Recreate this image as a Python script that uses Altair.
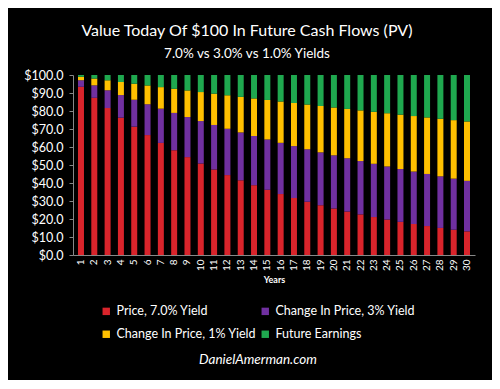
import altair as alt
import pandas as pd

years = list(range(1, 31))
# Cumulative stack levels (top of each segment, $)
top_red = [93.46, 87.34, 81.63, 76.29, 71.30, 66.63, 62.27, 58.20, 54.39, 50.83,
           47.51, 44.40, 41.50, 38.78, 36.24, 33.87, 31.66, 29.59, 27.65, 25.84,
           24.15, 22.57, 21.09, 19.71, 18.42, 17.22, 16.09, 15.04, 14.06, 13.14]
top_purple = [97.09, 94.26, 91.51, 88.85, 86.26, 83.75, 81.31, 78.94, 76.64, 74.41,
              72.24, 70.14, 68.10, 66.11, 64.19, 62.32, 60.50, 58.74, 57.03, 55.37,
              53.75, 52.19, 50.67, 49.19, 47.76, 46.37, 45.02, 43.71, 42.43, 41.20]
top_yellow = [99.01, 98.03, 97.06, 96.10, 95.15, 94.20, 93.27, 92.35, 91.43, 90.53,
              89.63, 88.74, 87.86, 86.99, 86.13, 85.28, 84.44, 83.60, 82.77, 81.95,
              81.14, 80.34, 79.54, 78.76, 77.98, 77.20, 76.44, 75.68, 74.93, 74.19]
top_green = [100.0] * 30

series = ["Price, 7.0% Yield", "Change In Price, 3% Yield",
          "Change In Price, 1% Yield", "Future Earnings"]
colors = ["#d9242b", "#7030a0", "#ffc000", "#1fa84f"]

rows = []
for i, yr in enumerate(years):
    levels = [0.0, top_red[i], top_purple[i], top_yellow[i], top_green[i]]
    for k, s in enumerate(series):
        rows.append({"year": yr, "series": s, "lo": levels[k], "hi": levels[k + 1]})
df = pd.DataFrame(rows)

FONT = "Lato"

chart = alt.Chart(df).mark_bar().encode(
    x=alt.X("year:O", title="Years",
            scale=alt.Scale(paddingInner=0.55, paddingOuter=0.375),
            axis=alt.Axis(labelAngle=-90, labelFontSize=10, labelColor="white",
                          titleFontSize=9, titleFontWeight="bold", titleColor="white",
                          titlePadding=5, ticks=False, domainColor="#888888",
                          labelPadding=4)),
    y=alt.Y("lo:Q", title=None, scale=alt.Scale(domain=[0, 100], nice=False),
            axis=alt.Axis(values=[0, 10, 20, 30, 40, 50, 60, 70, 80, 90, 100],
                          labelExpr="'$' + format(datum.value, '.1f')",
                          labelFontSize=12.5, labelColor="white", grid=False,
                          domainColor="#888888", tickColor="#888888", tickSize=4,
                          labelPadding=6)),
    y2="hi:Q",
    color=alt.Color("series:N", sort=series,
                    scale=alt.Scale(domain=series, range=colors),
                    legend=alt.Legend(orient="none", legendX=27, legendY=230,
                                      columns=2, direction="horizontal",
                                      symbolType="square", symbolSize=55,
                                      symbolStrokeWidth=0, labelFontSize=12.5,
                                      labelColor="white", labelLimit=300,
                                      columnPadding=2, rowPadding=10,
                                      title="DanielAmerman.com", titleOrient="bottom",
                                      titleAnchor="middle", titleFontSize=13.5,
                                      titleFontStyle="italic", titleFontWeight="normal",
                                      titleColor="white", titlePadding=12)),
).properties(
    width=402, height=180,
    title=alt.TitleParams("Value Today Of $100 In Future Cash Flows (PV)",
                          subtitle="7.0% vs 3.0% vs 1.0% Yields",
                          fontSize=16, subtitleFontSize=13.5, color="white",
                          subtitleColor="white", fontWeight="normal",
                          font=FONT, subtitleFont=FONT, anchor="middle",
                          dx=-27, offset=9, subtitlePadding=8),
    autosize=alt.AutoSizeParams(type="none"),
    padding={"left": 65, "top": 67, "right": 17, "bottom": 125},
).configure(
    background="black", font=FONT
).configure_view(stroke=None)

chart.save("out.html", embed_options={"renderer": "svg", "actions": False})
